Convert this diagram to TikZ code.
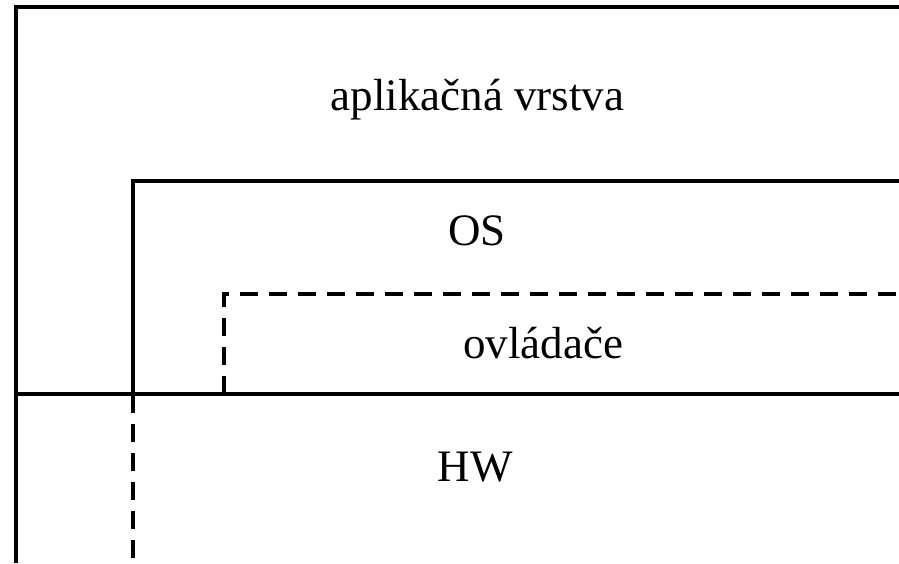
\documentclass[tikz,border=0pt]{standalone}
\usepackage{fontspec}
\setmainfont{Liberation Serif}
\begin{document}
\begin{tikzpicture}[x=1pt,y=-1pt,
  wall/.style={line width=4pt},
  dashwall/.style={line width=4pt, dash pattern=on 18pt off 11pt},
  lbl/.style={anchor=base, inner sep=0pt, font=\fontsize{45}{50}\selectfont}]
\useasboundingbox (0,0) rectangle (899,563);
% outer (application layer)
\draw[wall] (899,7) -- (15.5,7) -- (15.5,563);
% OS
\draw[wall] (899,181) -- (132.5,181) -- (132.5,394);
\draw[dashwall] (132.5,395) -- (132.5,563);
% drivers
\draw[dashwall] (223.5,393.5) -- (223.5,293.5) -- (899,293.5);
% HW boundary
\draw[wall] (15.5,393.5) -- (899,393.5);
% labels
\node[lbl] (app) at (477.5,110) {aplikačná vrstva};
\node[lbl] (os) at (477,245) {OS};
\node[lbl] (drv) at (543,358) {ovládače};
\node[lbl] (hw) at (475,481) {HW};
\end{tikzpicture}
\end{document}
